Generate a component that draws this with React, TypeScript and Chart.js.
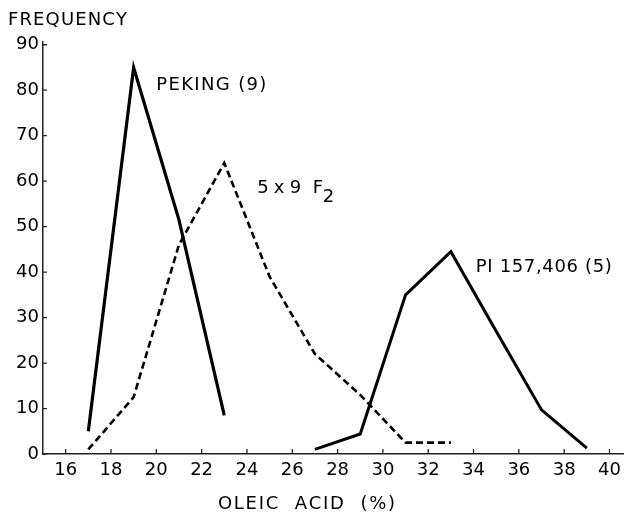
import React, { useEffect, useRef } from 'react';
import { Chart, registerables } from 'chart.js';
Chart.register(...registerables);

// Oleic acid (%) class midpoints and frequencies
const pekingX = [17, 19, 21, 23];
const pekingY = [5, 85, 51.5, 8.5];
const f2X = [17, 19, 21, 23, 25, 27, 29, 31, 33];
const f2Y = [1, 12.5, 46, 64, 39, 22, 13, 2.5, 2.5];
const piX = [27, 29, 31, 33, 35, 37, 39];
const piY = [1, 4.4, 35, 44.5, 27, 9.7, 1.3];

const xTicks = [16, 18, 20, 22, 24, 26, 28, 30, 32, 34, 36, 38, 40];
const yTicks = [0, 10, 20, 30, 40, 50, 60, 70, 80, 90];

const yTitle = 'FREQUENCY';
const xTitle = 'OLEIC  ACID  (%)';
const pekingLabel = 'PEKING (9)';
const f2Label = '5x9';
const f2LabelF = 'F';
const f2LabelSub = '2';
const piLabel = 'PI 157,406 (5)';

const FONT = '"DejaVu Sans", sans-serif';
const INK = '#000';

function toXY(xs: number[], ys: number[]) {
  return xs.map((x, i) => ({ x, y: ys[i] }));
}

function drawSpaced(ctx: CanvasRenderingContext2D, text: string, x: number, y: number, width: number) {
  const chars = [...text];
  const natural = chars.reduce((s, c) => s + ctx.measureText(c).width, 0);
  const sp = chars.length > 1 ? (width - natural) / (chars.length - 1) : 0;
  let cx = x;
  for (const c of chars) {
    ctx.fillText(c, cx, y);
    cx += ctx.measureText(c).width + sp;
  }
}

const decorPlugin = {
  id: 'decor',
  afterDraw(chart: any) {
    const { ctx, chartArea, scales } = chart;
    const xs = scales.x;
    const ys = scales.y;
    ctx.save();
    ctx.strokeStyle = '#222';
    ctx.lineWidth = 1.3;
    ctx.beginPath();
    yTicks.forEach((v) => {
      const py = ys.getPixelForValue(v);
      ctx.moveTo(chartArea.left, py);
      ctx.lineTo(chartArea.left + 4, py);
    });
    xTicks.forEach((v) => {
      const px = xs.getPixelForValue(v);
      ctx.moveTo(px, chartArea.bottom);
      ctx.lineTo(px, chartArea.bottom - 5);
    });
    ctx.stroke();

    ctx.fillStyle = INK;
    ctx.textBaseline = 'alphabetic';
    ctx.textAlign = 'left';
    ctx.font = `18px ${FONT}`;
    drawSpaced(ctx, yTitle, 8, 25, 119);
    drawSpaced(ctx, xTitle, 218, 509, 177);
    drawSpaced(ctx, pekingLabel, xs.getPixelForValue(20.0), ys.getPixelForValue(80), 110);
    drawSpaced(ctx, f2Label, xs.getPixelForValue(24.45), ys.getPixelForValue(57.4), 44);
    drawSpaced(ctx, f2LabelF, xs.getPixelForValue(26.9), ys.getPixelForValue(57.4), 9);
    drawSpaced(ctx, f2LabelSub, xs.getPixelForValue(27.35), ys.getPixelForValue(55.4), 12);
    drawSpaced(ctx, piLabel, xs.getPixelForValue(34.1), ys.getPixelForValue(40), 136);
    ctx.restore();
  },
};

export default function App() {
  const ref = useRef<HTMLCanvasElement | null>(null);
  useEffect(() => {
    if (!ref.current) return;
    const chart = new Chart(ref.current, {
      type: 'line',
      data: {
        datasets: [
          {
            label: pekingLabel,
            data: toXY(pekingX, pekingY),
            borderColor: INK,
            borderWidth: 3.2,
            pointRadius: 0,
            tension: 0,
            fill: false,
          },
          {
            label: '5x9 F2',
            data: toXY(f2X, f2Y),
            borderColor: INK,
            borderWidth: 2.6,
            borderDash: [7, 4],
            pointRadius: 0,
            tension: 0,
            fill: false,
          },
          {
            label: piLabel,
            data: toXY(piX, piY),
            borderColor: INK,
            borderWidth: 3,
            pointRadius: 0,
            tension: 0,
            fill: false,
          },
        ],
      },
      options: {
        responsive: false,
        animation: false,
        devicePixelRatio: 1,
        layout: { padding: { top: 42, right: 2, left: 0, bottom: 0 } },
        plugins: { legend: { display: false }, tooltip: { enabled: false }, title: { display: false } },
        scales: {
          x: {
            type: 'linear',
            min: 15,
            max: 40.6,
            afterBuildTicks: (s: any) => {
              s.ticks = xTicks.map((v) => ({ value: v }));
            },
            afterFit: (s: any) => {
              s.height = 59;
            },
            grid: { display: false, drawOnChartArea: false, drawTicks: false },
            border: { display: true, color: '#222', width: 1.5 },
            ticks: { padding: 6, color: INK, font: { family: FONT, size: 18 }, maxRotation: 0, autoSkip: false },
          },
          y: {
            type: 'linear',
            min: 0,
            max: 90.6,
            afterBuildTicks: (s: any) => {
              s.ticks = yTicks.map((v) => ({ value: v }));
            },
            afterFit: (s: any) => {
              s.width = 43;
            },
            grid: { display: false, drawOnChartArea: false, drawTicks: false },
            border: { display: true, color: '#222', width: 1.5 },
            ticks: { padding: 4, color: INK, font: { family: FONT, size: 18 }, autoSkip: false },
          },
        },
      },
      plugins: [decorPlugin],
    });
    return () => chart.destroy();
  }, []);
  return (
    <div style={{ position: 'fixed', left: 0, top: 0, width: 627, height: 513, background: '#fff' }}>
      <canvas ref={ref} width={627} height={513} style={{ width: 627, height: 513, display: 'block' }} />
    </div>
  );
}
